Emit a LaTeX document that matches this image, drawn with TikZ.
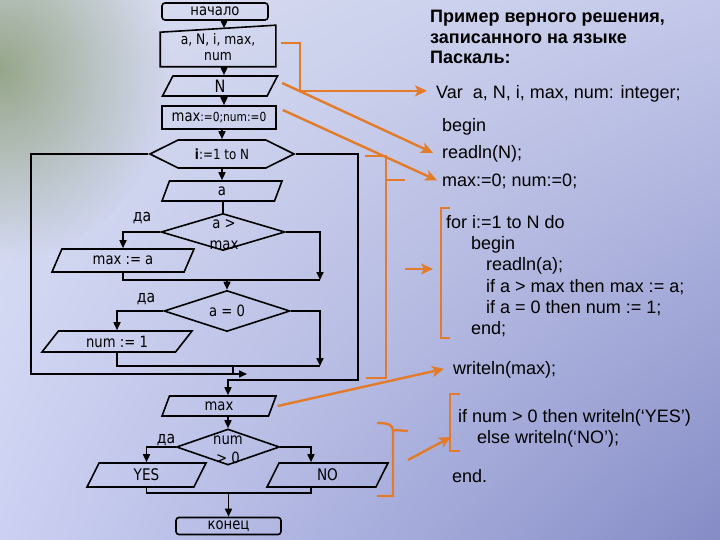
\documentclass[tikz,border=0pt]{standalone}
\usepackage{fontspec}
\setmainfont{Liberation Sans}
\newfontfamily\chartfont[FakeStretch=0.85]{DejaVu Sans}
\usetikzlibrary{arrows.meta,calc,positioning,shapes.geometric,shapes.symbols,fadings,shadings}
\definecolor{bgul}{HTML}{DCE1F2}
\definecolor{bgur}{HTML}{C3C8EA}
\definecolor{bgll}{HTML}{CCD1F3}
\definecolor{bglr}{HTML}{858CC6}
\definecolor{bggreen}{HTML}{8A9C78}
\definecolor{orangeline}{HTML}{E37B2A}
\tikzfading[name=greenfade, inner color=transparent!15, outer color=transparent!100]
\tikzset{
      flow/.style = {line width=1.6pt, black},
       arr/.style = {flow, -{Triangle[length=8pt,width=7pt]}},   % <--- black arrow heads
      base/.style = {draw, line width=1.6pt, inner sep=0pt, align=center,
                     font=\chartfont\fontsize{15.5}{16}\selectfont},
 startstop/.style = {base, rectangle, rounded corners=3pt},
   process/.style = {base, rectangle},
        io/.style = {base, trapezium, trapezium stretches body,
                     trapezium left angle=50, trapezium right angle=130},
  decision/.style = {base, diamond, aspect=3},
   loopbox/.style = {base, signal, signal to=east and west, signal pointer angle=53},
   dectext/.style = {inner sep=0pt, align=center, font=\chartfont\fontsize{15.5}{21}\selectfont},
   yeslbl/.style = {inner sep=0pt, font=\chartfont\fontsize{16.5}{17}\selectfont},
     oline/.style = {orangeline, line width=2.4pt},
      oarr/.style = {oline, -{Stealth[length=12pt,width=11pt,inset=3pt]}},   % <--- orange arrows
      code/.style = {inner sep=0pt, anchor=base west, font=\fontsize{18}{21.3}\selectfont},
}
\begin{document}
\begin{tikzpicture}[x=1pt, y=-1pt]
\useasboundingbox (0,0) rectangle (720,540);
% background
\shade[upper left=bgul, upper right=bgur, lower left=bgll, lower right=bglr] (0,0) rectangle (720,540);
\fill[bggreen, path fading=greenfade] (-170,-120) rectangle (170,260);

% flowchart
\node[startstop, minimum width=106, minimum height=17] (start) at (215,11.5) {начало};
\node[base, draw=none, minimum width=114, minimum height=37,
      font=\chartfont\fontsize{14.5}{16}\selectfont] (vars) at (218,47.5) {a, N, i, max,\\num};
\draw[flow] (vars.south west) -- ($(vars.north west)+(0,4)$) -- ($(vars.north east)+(0,-3)$)
   -- (vars.south east) -- cycle;
\node[io, minimum width=115, minimum height=20,
      font=\chartfont\fontsize{17}{17}\selectfont] (inN) at (220,86) {N};
\node[process, minimum width=114, minimum height=23] (init) at (219,117.5)
   {max{\fontsize{12.5}{12}\selectfont:=0;num:=0}};
\node[loopbox, minimum width=144, minimum height=28,
      font=\chartfont\fontsize{14}{14}\selectfont] (loop) at (222,154) {{\bfseries i}:=1 to N};
\node[io, minimum width=120, minimum height=20] (inA) at (222,191) {a};
\node[decision, minimum width=124, minimum height=37] (cmp1) at (223,232) {};
\node[dectext] (cmp1t) at (224,235) {a >\\max};
\node[io, minimum width=142, minimum height=23, trapezium left angle=42,
      trapezium right angle=138] (setmax) at (123,260.5) {max := a};
\node[decision, minimum width=126, minimum height=41] (cmp2) at (227,311) {a = 0};
\node[io, minimum width=150, minimum height=21, trapezium left angle=35,
      trapezium right angle=145] (setnum) at (117,341.5) {num := 1};
\node[io, minimum width=114, minimum height=20] (outmax) at (219,406) {max};
\node[decision, minimum width=103, minimum height=36] (cmp3) at (228,447) {};
\node[dectext, font=\chartfont\fontsize{15.5}{19}\selectfont] (cmp3t) at (228,449.5) {num\\> 0};
\node[io, minimum width=119, minimum height=24, trapezium left angle=45,
      trapezium right angle=135, font=\chartfont\fontsize{16}{16}\selectfont] (yes) at (146.5,475) {YES};
\node[io, minimum width=121, minimum height=24, trapezium left angle=45,
      trapezium right angle=135, font=\chartfont\fontsize{16}{16}\selectfont] (no) at (327.5,475) {NO};
\node[startstop, minimum width=105, minimum height=17] (stop) at (228.5,526) {конец};

\node[yeslbl] (da1) at (142,218) {да};
\node[yeslbl] (da2) at (146,299) {да};
\node[yeslbl] (da3) at (166,440) {да};

\coordinate (ax) at (224,0);
\coordinate (j1) at (320,280);
\coordinate (j2) at (320,366);
\coordinate (m2) at (233,366);
\coordinate (lb) at (31,374);
\coordinate (lend) at (247,374);
\coordinate (ex) at (358,380);
\coordinate (m3) at (311,493);

\draw[arr] (start.south -| ax) -- (vars.north -| ax);
\draw[arr] (vars.south -| ax) -- (inN.north -| ax);
\draw[arr] (inN.south -| ax) -- (init.north -| ax);
\draw[arr] (init.south -| loop) -- (loop.north);
\draw[arr] (loop.south) -- (inA.north -| loop);
\draw[flow] (inA.south -| cmp1) -- (cmp1.north);
\draw[arr] (cmp1.west) -| (setmax.north);
\draw[arr] (cmp1.east) -| (j1);
\draw[flow] (setmax.south) |- (j1);
\draw[arr] (cmp2.north |- j1) -- (cmp2.north);
\draw[arr] (cmp2.west) -| (setnum.north);
\draw[arr] (cmp2.east) -| (j2);
\draw[flow] (setnum.south) |- (j2);
\draw[flow] (m2) -- (m2 |- lb);
\draw[arr] (loop.west) -| (lb) -- (lend);
\draw[arr] (loop.east) -| (ex) -| (outmax.north -| cmp3);
\draw[arr] (outmax.south -| cmp3) -- (cmp3.north);
\draw[arr] (cmp3.west) -| (yes.north);
\draw[arr] (cmp3.east) -| (no.north -| m3);
\draw[flow] (yes.south) |- (m3) -- (no.south -| m3);
\draw[arr] (stop.north |- m3) -- (stop.north);

% Pascal text
\node[inner sep=0pt, anchor=north west, align=left,
      font=\bfseries\fontsize{18}{20.5}\selectfont] (head) at (430,10)
   {Пример верного решения,\\записанного на языке\\Паскаль:};
\node[code] (var) at (436,99) {Var\hspace{10pt}a, N, i, max, num: integer;};
\node[code] (beg) at (442,132) {begin};
\node[code] (rdN) at (442,159) {readln(N);};
\node[code] (ini) at (442,187) {max:=0; num:=0;};
\node[code, anchor=north west, align=left] (forblk) at (446,215)
   {for i:=1 to N do\\\hspace*{25pt}begin\\\hspace*{40pt}readln(a);\\
    \hspace*{40pt}if a > max then max := a;\\\hspace*{40pt}if a = 0 then num := 1;\\
    \hspace*{25pt}end;};
\node[code] (wrt) at (453,374) {writeln(max);};
\node[code, anchor=north west, align=left] (ifblk) at (458,409)
   {if num > 0 then writeln(‘YES’)\\\hspace*{19pt}else writeln(‘NO’);};
\node[code] (fin) at (452,482) {end.};

% orange links
\coordinate (fa) at (405,269);
\coordinate (fb) at (433,269);
\coordinate (ia) at (408,460);
\coordinate (ib) at (451,437);
\draw[oarr] ($(vars.east)+(5,-4.5)$) -- ++(19,0) |- ($(var.west)+(-9,-3.5)$);
\draw[oarr] ($(inN.east)+(9,-3)$) -- ($(rdN.west)+(-9,-1.5)$);
\draw[oarr] ($(init.east)+(6,-7.5)$) -- ($(ini.west)+(-5,-1.5)$);
\draw[oarr] ($(outmax.east)+(4.5,0)$) -- ($(wrt.west)+(-9,-0.5)$);
\draw[oarr] (fa) -- (fb);
\draw[oarr] (ia) -- (ib);
\draw[oline] (365,156) -| (386,378) -- (366,378);
\draw[oline] (386,180) -- (405,180);
\draw[oline] (377,423) .. controls (389,423) and (393,425) .. (393,431) -- (393,496) -- (377,496);
\draw[oline] (393,431) .. controls (396,429) and (401,431) .. (408,431);
\draw[oline] (450,208) -| (441,338) -- (450,338);
\draw[oline] (460,394) -| (450,451) -- (460,451);
\end{tikzpicture}
\end{document}
